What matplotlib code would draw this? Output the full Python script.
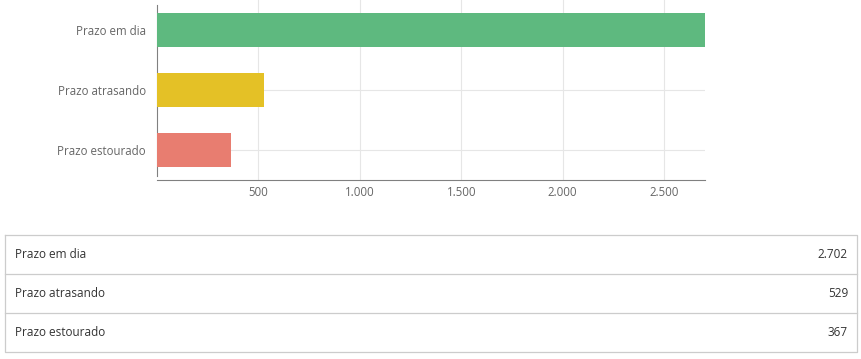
import matplotlib
matplotlib.use("Agg")
import matplotlib.pyplot as plt
from matplotlib.ticker import FuncFormatter

categories = ["Prazo em dia", "Prazo atrasando", "Prazo estourado"]
values = [2702, 529, 367]
colors = ["#5eb97f", "#e4c126", "#e87d70"]
xticks = [500, 1000, 1500, 2000, 2500]

plt.rcParams['font.family'] = ['Open Sans', 'DejaVu Sans']

W, H = 862, 359
fig = plt.figure(figsize=(W / 100, H / 100), dpi=100)

def fmt(v):
    return f"{int(v):,}".replace(",", ".")

# chart
ax = fig.add_axes([157 / W, 1 - 180 / H, (705 - 157) / W, 180 / H])
ypos = list(range(len(categories)))
ax.barh(ypos, values, height=0.57, color=colors, zorder=3)
ax.set_ylim(len(categories) - 0.5, -0.5)
ax.set_xlim(0, max(values))
ax.set_yticks(ypos)
ax.set_yticklabels(categories, fontsize=8.3, color="#666666")
ax.set_xticks(xticks)
ax.xaxis.set_major_formatter(FuncFormatter(lambda v, p: fmt(v)))
ax.tick_params(axis="x", length=0, labelsize=8.3, labelcolor="#666666", pad=4)
ax.tick_params(axis="y", length=0, pad=8)
ax.grid(True, color="#e6e6e6", linewidth=0.8, zorder=0)
for s in ["top", "right"]:
    ax.spines[s].set_visible(False)
ax.spines["left"].set_color("#808080")
ax.spines["bottom"].set_color("#808080")
ax.spines["left"].set_bounds(len(categories) - 0.5 - 0.07, -0.5 + 0.08)

# table
tax = fig.add_axes([0, 0, 1, 1])
tax.set_xlim(0, W)
tax.set_ylim(H, 0)
tax.axis("off")
top, rowh = 235, 39
left, right = 5, 857
n = len(categories)
tax.plot([left, right, right, left, left], [top, top, top + n * rowh, top + n * rowh, top],
         color="#cccccc", linewidth=0.9)
for i in range(1, n):
    tax.plot([left, right], [top + i * rowh] * 2, color="#cccccc", linewidth=0.9)
for i, (c, v) in enumerate(zip(categories, values)):
    yc = top + i * rowh + rowh / 2
    tax.text(15, yc, c, fontsize=8.5, color="#333333", va="center", ha="left")
    tax.text(848, yc, fmt(v), fontsize=8.5, color="#333333", va="center", ha="right")

fig.savefig("out.png", dpi=100, facecolor="white")
